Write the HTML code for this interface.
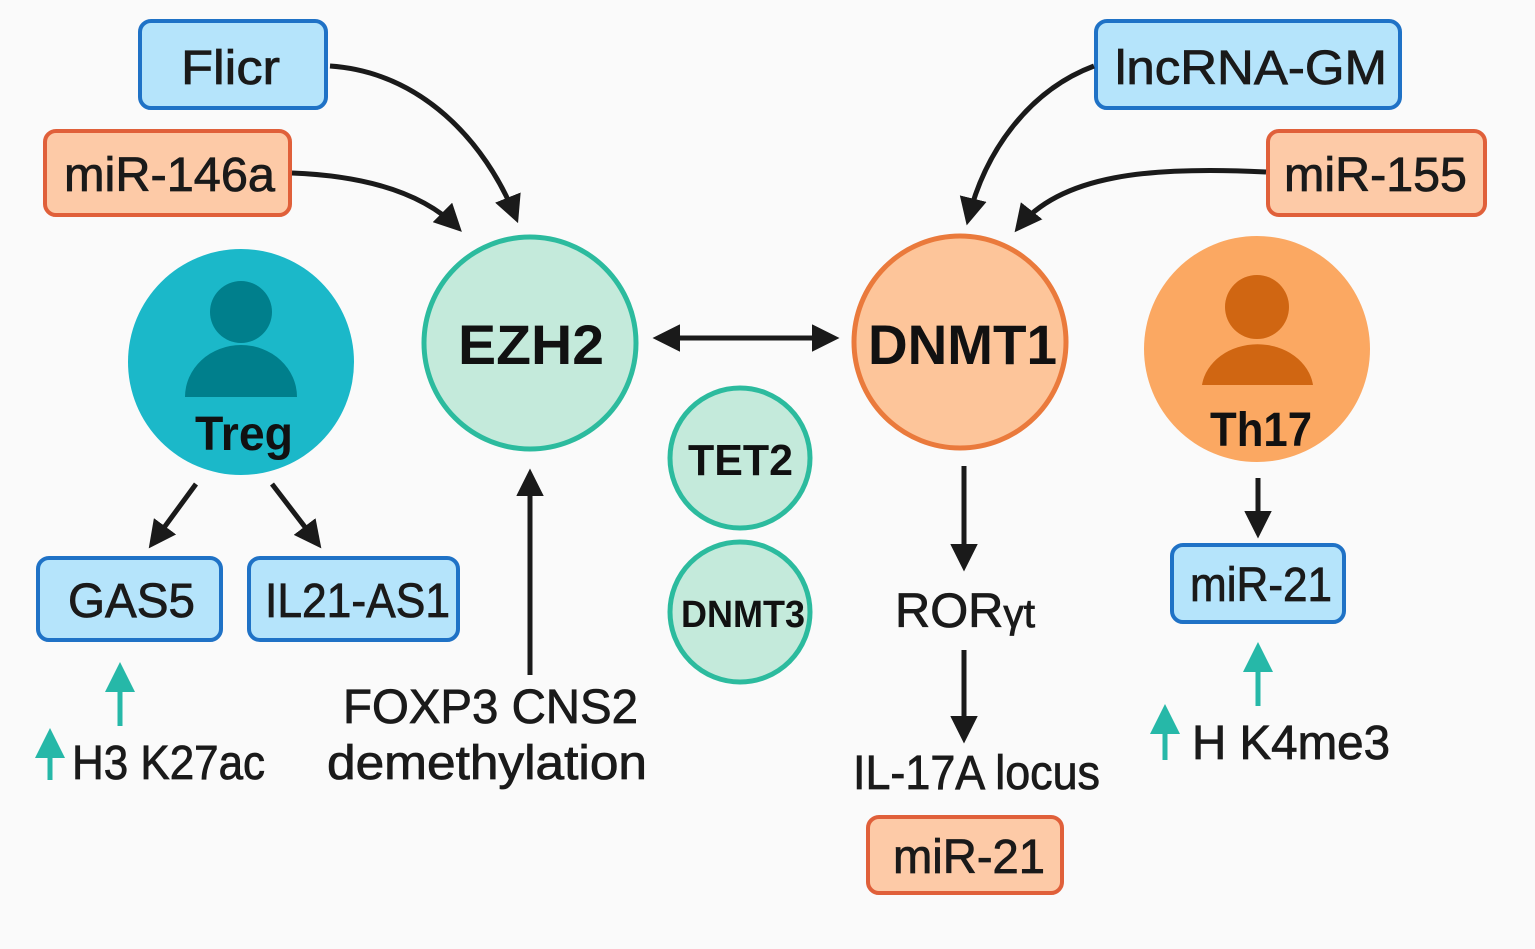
<!DOCTYPE html>
<html><head><meta charset="utf-8"><style>
html,body{margin:0;padding:0;background:#fafafa;}
svg{display:block;font-family:"Liberation Sans",sans-serif;}
</style></head><body>
<svg width="1535" height="949" viewBox="0 0 1535 949" xmlns="http://www.w3.org/2000/svg">
<defs>
<marker id="ah" viewBox="0 0 10 10" refX="8" refY="5" markerWidth="5.5" markerHeight="5.5" orient="auto-start-reverse"><path d="M0,0 L10,5 L0,10 z" fill="#1a1a1a"/></marker>
<marker id="ta" viewBox="0 0 10 10" refX="8" refY="5" markerWidth="6" markerHeight="6" orient="auto"><path d="M0,0 L10,5 L0,10 z" fill="#26b8a8"/></marker>
</defs>
<rect width="1535" height="949" fill="#fafafa"/>
<g stroke-width="4">
<rect x="140" y="21" width="186" height="87" rx="11" fill="#b5e4fb" stroke="#1f72c6"/>
<rect x="45" y="131" width="245" height="84" rx="11" fill="#fdcaa7" stroke="#e0603a"/>
<rect x="1096" y="21" width="304" height="87" rx="11" fill="#b5e4fb" stroke="#1f72c6"/>
<rect x="1268" y="131" width="217" height="84" rx="11" fill="#fdcaa7" stroke="#e0603a"/>
<rect x="38" y="558" width="183" height="82" rx="11" fill="#b5e4fb" stroke="#1f72c6"/>
<rect x="249" y="558" width="209" height="82" rx="11" fill="#b5e4fb" stroke="#1f72c6"/>
<rect x="1172" y="545" width="172" height="77" rx="11" fill="#b5e4fb" stroke="#1f72c6"/>
<rect x="868" y="817" width="194" height="76" rx="11" fill="#fdcaa7" stroke="#e0603a"/>
</g>
<g font-size="48" fill="#1a1a1a" stroke="#1a1a1a" stroke-width="0.8" lengthAdjust="spacingAndGlyphs">
<text x="181" y="84" textLength="99" lengthAdjust="spacingAndGlyphs">Flicr</text>
<text x="64" y="191" textLength="211" lengthAdjust="spacingAndGlyphs">miR-146a</text>
<text x="1115" y="84" textLength="272" lengthAdjust="spacingAndGlyphs">lncRNA-GM</text>
<text x="1284" y="191" textLength="183" lengthAdjust="spacingAndGlyphs">miR-155</text>
<text x="68" y="617" textLength="127" lengthAdjust="spacingAndGlyphs">GAS5</text>
<text x="265" y="617" textLength="185" lengthAdjust="spacingAndGlyphs">IL21-AS1</text>
<text x="1190" y="601" textLength="142" lengthAdjust="spacingAndGlyphs">miR-21</text>
<text x="893" y="873" textLength="152" lengthAdjust="spacingAndGlyphs">miR-21</text>
</g>
<circle cx="241" cy="362" r="113" fill="#1bb8c9"/>
<circle cx="241" cy="312" r="31" fill="#007f8c"/>
<path d="M185,397 A56,52 0 0 1 297,397 Z" fill="#007f8c"/>
<text x="195" y="450" font-size="48" font-weight="bold" fill="#111" textLength="98" lengthAdjust="spacingAndGlyphs">Treg</text>
<circle cx="1257" cy="349" r="113" fill="#fba862"/>
<circle cx="1257" cy="307" r="32" fill="#d06612"/>
<path d="M1202,385 A56,47 0 0 1 1313,385 Z" fill="#d06612"/>
<text x="1210" y="446" font-size="48" font-weight="bold" fill="#111" textLength="102" lengthAdjust="spacingAndGlyphs">Th17</text>
<circle cx="530" cy="343" r="106" fill="#c4eadb" stroke="#2cbb9e" stroke-width="5"/>
<text x="458" y="364" font-size="56" font-weight="bold" fill="#111" textLength="146" lengthAdjust="spacingAndGlyphs">EZH2</text>
<circle cx="960" cy="342" r="106" fill="#fdc59a" stroke="#ea7a3c" stroke-width="5"/>
<text x="868" y="364" font-size="56" font-weight="bold" fill="#111" textLength="189" lengthAdjust="spacingAndGlyphs">DNMT1</text>
<circle cx="740" cy="458" r="70" fill="#c4eadb" stroke="#2cbb9e" stroke-width="5"/>
<text x="688" y="475" font-size="44" font-weight="bold" fill="#111" textLength="105" lengthAdjust="spacingAndGlyphs">TET2</text>
<circle cx="740" cy="612" r="70" fill="#c4eadb" stroke="#2cbb9e" stroke-width="5"/>
<text x="681" y="627" font-size="38" font-weight="bold" fill="#111" textLength="124" lengthAdjust="spacingAndGlyphs">DNMT3</text>
<g stroke="#1a1a1a" stroke-width="5" fill="none" marker-end="url(#ah)">
<path d="M330,66 C420,72 485,140 516,218"/>
<path d="M292,173 C370,176 425,195 458,228"/>
<path d="M658,338 L834,338" marker-start="url(#ah)"/>
<path d="M1094,66 C1030,90 985,150 968,220"/>
<path d="M1266,172 C1150,166 1060,175 1018,228"/>
<path d="M196,484 L152,544"/>
<path d="M272,484 L318,544"/>
<path d="M530,675 L530,474"/>
<path d="M964,466 L964,566"/>
<path d="M964,650 L964,738"/>
<path d="M1258,478 L1258,533"/>
</g>
<g stroke="#26b8a8" stroke-width="5" fill="none" marker-end="url(#ta)">
<path d="M120,726 L120,668"/>
<path d="M50,780 L50,734"/>
<path d="M1258,706 L1258,648"/>
<path d="M1165,760 L1165,710"/>
</g>
<g font-size="48" fill="#1a1a1a" stroke="#1a1a1a" stroke-width="0.8">
<text x="72" y="779" textLength="193" lengthAdjust="spacingAndGlyphs">H3 K27ac</text>
<text x="343" y="723" textLength="295" lengthAdjust="spacingAndGlyphs">FOXP3 CNS2</text>
<text x="327" y="779" textLength="320" lengthAdjust="spacingAndGlyphs">demethylation</text>
<text x="895" y="627" textLength="140" lengthAdjust="spacingAndGlyphs">ROR<tspan font-size="40">γt</tspan></text>
<text x="853" y="789" textLength="247" lengthAdjust="spacingAndGlyphs">IL-17A locus</text>
<text x="1192" y="759" textLength="198" lengthAdjust="spacingAndGlyphs">H K4me3</text>
</g>
</svg>
</body></html>
